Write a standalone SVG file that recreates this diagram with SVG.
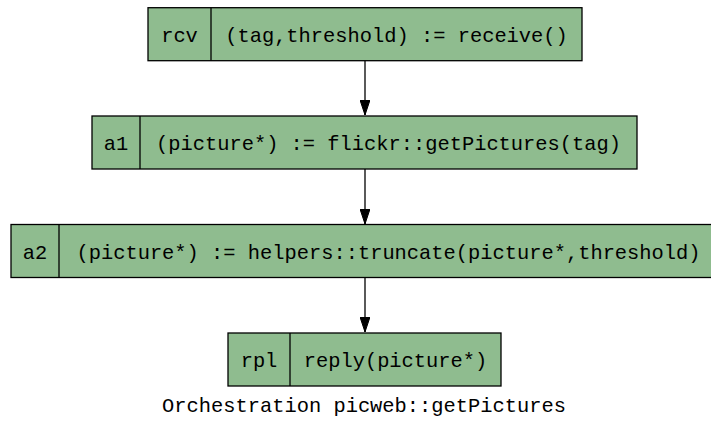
<svg xmlns="http://www.w3.org/2000/svg" width="711" height="421" viewBox="0 0 711 421">
<style>
.box{fill:#8fbc8f;stroke:#000;stroke-width:1.3}
.div{stroke:#000;stroke-width:1.3}
text{font-family:"Liberation Mono","Courier New",monospace;font-size:20.4px;fill:#000;text-anchor:middle}
.edge{stroke:#000;stroke-width:1.3;fill:none}
</style>
<defs>
<marker id="arr" viewBox="0 0 10 15" refX="10" refY="7.5" markerWidth="10" markerHeight="15" markerUnits="userSpaceOnUse" orient="auto">
<path d="M0,2.5 L10,7.5 L0,12.5 Z" fill="#000"/>
</marker>
<marker id="ah" viewBox="0 0 15 10" refX="15" refY="5" markerWidth="15" markerHeight="10" markerUnits="userSpaceOnUse" orient="auto">
<path d="M0,0 L15,5 L0,10 Z" fill="#000" stroke="#000" stroke-width="1"/>
</marker>
</defs>
<g id="connectors">
<line class="edge" x1="365" y1="61" x2="365" y2="115" marker-end="url(#ah)"/>
<line class="edge" x1="365" y1="169" x2="365" y2="224" marker-end="url(#ah)"/>
<line class="edge" x1="365" y1="277" x2="365" y2="332" marker-end="url(#ah)"/>
</g>
<g id="rcv">
<rect class="box" x="148" y="7.7" width="434" height="53"/>
<line class="div" x1="211" y1="7.7" x2="211" y2="60.7"/>
<text x="179.5" y="41.5">rcv</text>
<text x="396.5" y="41.5">(tag,threshold) := receive()</text>
</g>
<g id="a1">
<rect class="box" x="92" y="116" width="545" height="53"/>
<line class="div" x1="140" y1="116" x2="140" y2="169"/>
<text x="116" y="150">a1</text>
<text x="388.5" y="150">(picture*) := flickr::getPictures(tag)</text>
</g>
<g id="a2">
<rect class="box" x="11" y="224.5" width="708" height="53"/>
<line class="div" x1="59" y1="224.5" x2="59" y2="277.5"/>
<text x="35" y="258.5">a2</text>
<text x="388.5" y="258.5">(picture*) := helpers::truncate(picture*,threshold)</text>
</g>
<g id="rpl">
<rect class="box" x="228" y="333" width="273" height="53"/>
<line class="div" x1="290" y1="333" x2="290" y2="386"/>
<text x="259" y="367">rpl</text>
<text x="395.5" y="367">reply(picture*)</text>
</g>
<text id="caption" x="364" y="412">Orchestration picweb::getPictures</text>
</svg>
